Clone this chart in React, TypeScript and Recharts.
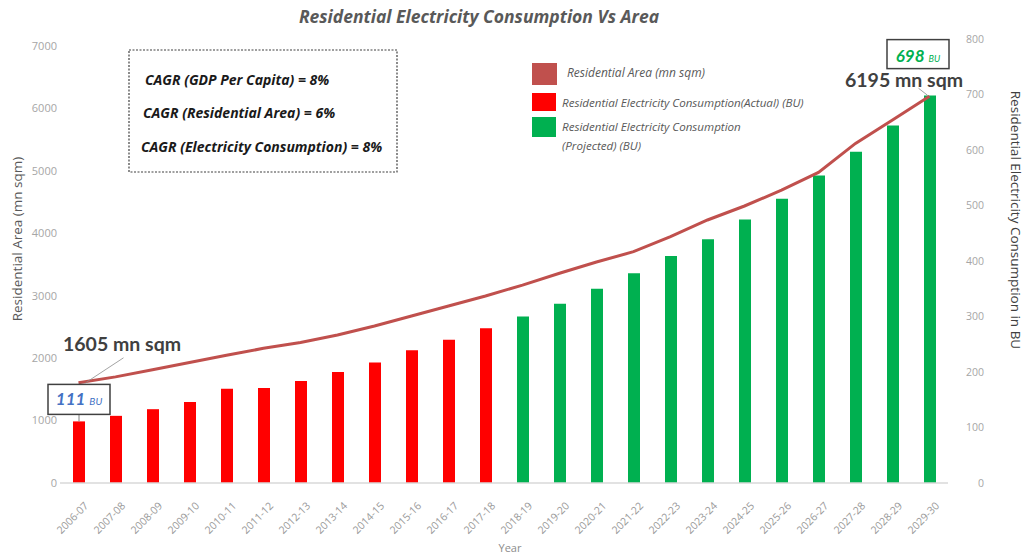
import React from 'react';
import { ComposedChart, Bar, Line, XAxis, YAxis, LabelList } from 'recharts';

const years = [
  '2006-07', '2007-08', '2008-09', '2009-10', '2010-11', '2011-12',
  '2012-13', '2013-14', '2014-15', '2015-16', '2016-17', '2017-18',
  '2018-19', '2019-20', '2020-21', '2021-22', '2022-23', '2023-24',
  '2024-25', '2025-26', '2026-27', '2027-28', '2028-29', '2029-30',
];

// residential floor area in mn sqm (left axis)
const residentialArea = [
  1605, 1700, 1815, 1930, 2045, 2157, 2250, 2370, 2515, 2675, 2835, 2995,
  3170, 3360, 3540, 3705, 3945, 4213, 4437, 4690, 4975, 5440, 5815, 6195,
];

// electricity consumption in BU (right axis): actuals to 2017-18, projections after
const actualBU = [111, 121, 133, 146, 170, 171, 184, 200, 217, 239, 258, 279];
const projectedBU = [300, 323, 350, 378, 409, 439, 475, 512, 554, 597, 644, 698];

const areaTicks = [0, 1000, 2000, 3000, 4000, 5000, 6000, 7000];
const buTicks = [0, 100, 200, 300, 400, 500, 600, 700, 800];

const cagrNotes = [
  'CAGR (GDP Per Capita) = 8%',
  'CAGR (Residential Area) = 6%',
  'CAGR (Electricity Consumption) = 8%',
];

const AREA_COLOR = '#C0504D';
const ACTUAL_COLOR = '#FF0000';
const PROJECTED_COLOR = '#00B050';
const FONT = '"Open Sans", Lato, sans-serif';
const BOLD_FONT = 'Lato, "Open Sans", sans-serif';
const TICK_COLOR = '#A6A6A6';

const data = years.map((year, i) => ({
  year,
  area: residentialArea[i],
  actual: i < actualBU.length ? actualBU[i] : null,
  projected: i >= actualBU.length ? projectedBU[i - actualBU.length] : null,
}));

const lastIndex = years.length - 1;
const firstBU = actualBU[0];
const lastBU = projectedBU[projectedBU.length - 1];

const YearTick = ({ x, y, payload }: any) => (
  <text
    x={0}
    y={0}
    dy="0.35em"
    transform={`translate(${x + 8},${y + 21}) rotate(-45)`}
    textAnchor="end"
    fontSize={10.5}
    fontFamily={FONT}
    fill="#999"
  >
    {payload.value}
  </text>
);

const AreaTick = ({ x, y, payload }: any) => (
  <text x={x - 3} y={y} dy="0.35em" textAnchor="end" fontSize={11} fontFamily={FONT} fill={TICK_COLOR}>
    {payload.value}
  </text>
);

const BuTick = ({ x, y, payload }: any) => (
  <text x={x + 36} y={y} dy="0.35em" textAnchor="end" fontSize={10.5} fontFamily={FONT} fill={TICK_COLOR}>
    {payload.value}
  </text>
);

const getBox = (props: any) => {
  const vb = props.viewBox || {};
  return {
    x: props.x ?? vb.x,
    y: props.y ?? vb.y,
    width: props.width ?? vb.width ?? 0,
    height: props.height ?? vb.height ?? 0,
  };
};

const labelValue = (props: any) =>
  Array.isArray(props.value) ? props.value[1] : props.value;

// callout on the first actual bar
const FirstBarLabel = (props: any) => {
  if (props.index !== 0) return null;
  const { x, y, width } = getBox(props);
  const cx = x + width / 2;
  return (
    <g>
      <line x1={cx} y1={y - 7} x2={cx} y2={y} stroke="#7f7f7f" strokeWidth={1} />
      <rect x={cx - 31} y={y - 37} width={62} height={30} fill="#fff" stroke="#404040" strokeWidth={1.5} />
      <text x={cx} y={y - 16} textAnchor="middle" fontFamily={BOLD_FONT} fontStyle="italic" fill="#4472C4">
        <tspan fontSize={17} fontWeight="bold">{firstBU}</tspan>
        <tspan fontSize={10} dx={4}>BU</tspan>
      </text>
    </g>
  );
};

// callout on the last projected bar
const LastBarLabel = (props: any) => {
  if (labelValue(props) !== lastBU) return null;
  const { x, y, width } = getBox(props);
  const cx = x + width / 2;
  return (
    <g>
      <rect x={cx - 43} y={y - 56} width={62} height={29} fill="#fff" stroke="#404040" strokeWidth={1.5} />
      <text x={cx - 12} y={y - 34} textAnchor="middle" fontFamily={BOLD_FONT} fontStyle="italic" fill={PROJECTED_COLOR}>
        <tspan fontSize={17} fontWeight="bold">{lastBU}</tspan>
        <tspan fontSize={9} dx={4}>BU</tspan>
      </text>
    </g>
  );
};

const AreaLabel = (props: any) => {
  const { x, y } = getBox(props);
  if (props.index === 0) {
    return (
      <g>
        <line x1={x + 45} y1={y - 25} x2={x + 7} y2={y} stroke="#8c8c8c" strokeWidth={0.8} />
        <text x={x - 15.5} y={y - 32} fontSize={19.5} fontWeight="bold" fontFamily={BOLD_FONT} fill="#404040">
          {residentialArea[0]} mn sqm
        </text>
      </g>
    );
  }
  if (props.index === lastIndex) {
    return (
      <g>
        <defs>
          <clipPath id="areaEndClip">
            <rect x={x - 100} y={y - 40} width={133.5} height={40} />
          </clipPath>
        </defs>
        <line x1={x - 11} y1={y - 8} x2={x - 2} y2={y - 1} stroke="#8c8c8c" strokeWidth={0.8} />
        <text
          x={x - 84.5}
          y={y - 9}
          fontSize={19.5}
          fontWeight="bold"
          fontFamily={BOLD_FONT}
          fill="#404040"
          clipPath="url(#areaEndClip)"
        >
          {residentialArea[lastIndex]} mn sqm
        </text>
      </g>
    );
  }
  return null;
};

const legendItems = [
  { color: AREA_COLOR, lines: ['Residential Area (mn sqm)'], x: 532, y: 63, w: 25, h: 22, tx: 567, fs: 12 },
  { color: ACTUAL_COLOR, lines: ['Residential Electricity Consumption(Actual) (BU)'], x: 532, y: 93, w: 24, h: 18, tx: 562, fs: 11.6 },
  {
    color: PROJECTED_COLOR,
    lines: ['Residential Electricity Consumption', '(Projected) (BU)'],
    x: 532, y: 117, w: 24, h: 20, tx: 562, fs: 11.6,
  },
];

const App: React.FC = () => (
  <div style={{ position: 'absolute', left: 0, top: 0, width: 1025, height: 555, background: '#fff' }}>
    <ComposedChart
      width={1025}
      height={555}
      data={data}
      margin={{ top: 39, right: 0, bottom: 12, left: 0 }}
    >
      <XAxis
        dataKey="year"
        height={60}
        interval={0}
        tickLine={false}
        tickSize={0}
        tickMargin={0}
        axisLine={{ stroke: '#D9D9D9', strokeWidth: 1.5 }}
        tick={<YearTick />}
        label={(p: any) => {
          const vb = p.viewBox;
          return (
            <text x={vb.x + 450} y={vb.y + 65} dy="0.35em" textAnchor="middle" fontSize={11} fontFamily={FONT} fill="#8c8c8c">
              Year
            </text>
          );
        }}
      />
      <YAxis
        yAxisId="area"
        orientation="left"
        width={60}
        domain={[0, 7112]}
        ticks={areaTicks}
        tickLine={false}
        axisLine={false}
        tickSize={0}
        tickMargin={0}
        tick={<AreaTick />}
        label={(p: any) => {
          const vb = p.viewBox;
          const cx = vb.x + 17;
          const cy = vb.y + 200;
          return (
            <text x={cx} y={cy} dy="0.35em" textAnchor="middle" transform={`rotate(-90 ${cx} ${cy})`} fontSize={13.5} fontFamily={FONT} fill="#595959">
              Residential Area (mn sqm)
            </text>
          );
        }}
      />
      <YAxis
        yAxisId="bu"
        orientation="right"
        width={77}
        domain={[0, 800]}
        ticks={buTicks}
        tickLine={false}
        axisLine={false}
        tickSize={0}
        tickMargin={0}
        tick={<BuTick />}
        label={(p: any) => {
          const vb = p.viewBox;
          const cx = vb.x + 68;
          const cy = vb.y + 181;
          return (
            <text x={cx} y={cy} dy="0.35em" textAnchor="middle" transform={`rotate(90 ${cx} ${cy})`} fontSize={13.5} fontFamily={FONT} fill="#404040">
              Residential Electricity Consumption in BU
            </text>
          );
        }}
      />
      <Bar yAxisId="bu" dataKey="actual" stackId="bu" fill={ACTUAL_COLOR} barSize={12} isAnimationActive={false}>
        <LabelList dataKey="actual" content={<FirstBarLabel />} />
      </Bar>
      <Bar yAxisId="bu" dataKey="projected" stackId="bu" fill={PROJECTED_COLOR} barSize={12} isAnimationActive={false}>
        <LabelList dataKey="projected" content={<LastBarLabel />} />
      </Bar>
      <Line
        yAxisId="area"
        dataKey="area"
        type="linear"
        stroke={AREA_COLOR}
        strokeWidth={3}
        dot={false}
        isAnimationActive={false}
      >
        <LabelList dataKey="area" content={<AreaLabel />} />
      </Line>
    </ComposedChart>

    <svg
      width={1025}
      height={555}
      style={{ position: 'absolute', left: 0, top: 0, pointerEvents: 'none' }}
    >
      <text x={479} y={23} textAnchor="middle" fontSize={17.5} fontWeight="bold" fontStyle="italic" fontFamily={FONT} fill="#595959">
        Residential Electricity Consumption Vs Area
      </text>

      <rect x={129} y={50} width={268} height={122} fill="#fff" stroke="#404040" strokeWidth={1.2} strokeDasharray="2 1.5" />
      {cagrNotes.map((note, i) => (
        <text
          key={note}
          x={145 - i * 2}
          y={84.5 + i * 33.5}
          fontSize={14}
          fontWeight="bold"
          fontStyle="italic"
          fontFamily={FONT}
          fill="#1a1a1a"
        >
          {note}
        </text>
      ))}

      {legendItems.map((item) => (
        <g key={item.color}>
          <rect x={item.x} y={item.y} width={item.w} height={item.h} fill={item.color} />
          {item.lines.map((line, j) => (
            <text
              key={line}
              x={item.tx}
              y={item.y + 14 + j * 19}
              fontSize={item.fs}
              fontStyle="italic"
              fontFamily={FONT}
              fill="#595959"
            >
              {line}
            </text>
          ))}
        </g>
      ))}
    </svg>
  </div>
);

export default App;
